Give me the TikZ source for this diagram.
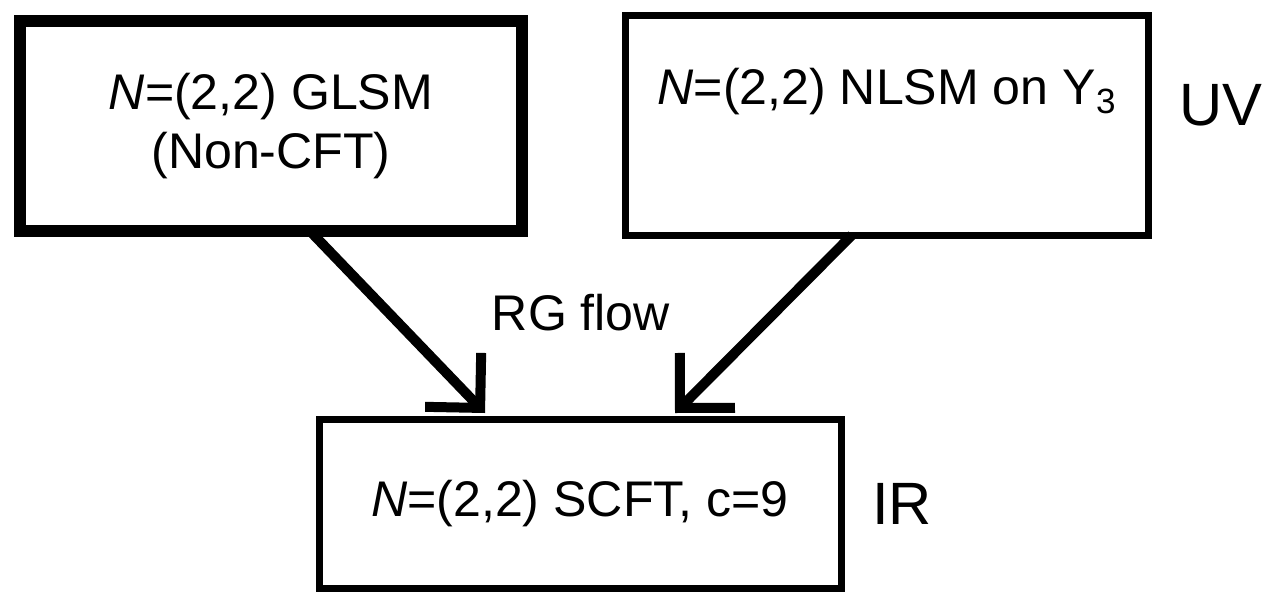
\documentclass[tikz,border=0pt]{standalone}
\usepackage{fontspec}
\setmainfont{Liberation Sans}
\usetikzlibrary{positioning}
\usetikzlibrary{calc}
\usetikzlibrary{arrows.meta}

\begin{document}
\begin{tikzpicture}[font=\fontsize{28.5}{34}\selectfont,
		theory/.style={draw, line width=0.14cm, align=center, inner sep=0, outer sep=0pt},
		regime/.style={inner sep=0, font=\fontsize{34}{40}\selectfont},
		rgarrow/.style={line width=0.2cm, -{Straight Barb[angle=90:1.1cm]}}]
		\useasboundingbox (0,0) rectangle (25.4,-11.86);
		
		\node at (5.42,-2.52) [theory, line width=0.24cm, minimum width=10.04cm, minimum height=4.2cm] (glsm) {\textit{N}=(2,2) GLSM\\(Non-CFT)};
		\node at (17.74,-2.5) [theory, minimum width=10.46cm, minimum height=4.4cm] (nlsm) {\textit{N}=(2,2) NLSM on Y\textsubscript{3}\\ \strut};
		\node at (11.6,-10.08) [theory, minimum width=10.44cm, minimum height=3.38cm] (scft) {\textit{N}=(2,2) SCFT, c=9};
		
		\node at (24.42,-2.5) [regime, anchor=base] (uv) {UV};
		\node [regime, right=0.62cm of scft.east] (ir) {IR};
		\node at (11.62,-6.6) [anchor=base, inner sep=0] (rgflow) {RG flow};
		
		% arrows leave the boxes off centre and stop just above the IR box
		\coordinate (glsmout) at ([xshift=0.78cm]glsm.south);
		\coordinate (nlsmout) at ([xshift=-0.7cm]nlsm.south);
		\coordinate (scftinl) at ([xshift=-1.9cm, yshift=0.13cm]scft.north);
		\coordinate (scftinr) at ([xshift=1.9cm, yshift=0.13cm]scft.north);
		\draw [rgarrow] (glsmout) -- (scftinl);
		\draw [rgarrow] (nlsmout) -- (scftinr);
		
\end{tikzpicture}
\end{document}
